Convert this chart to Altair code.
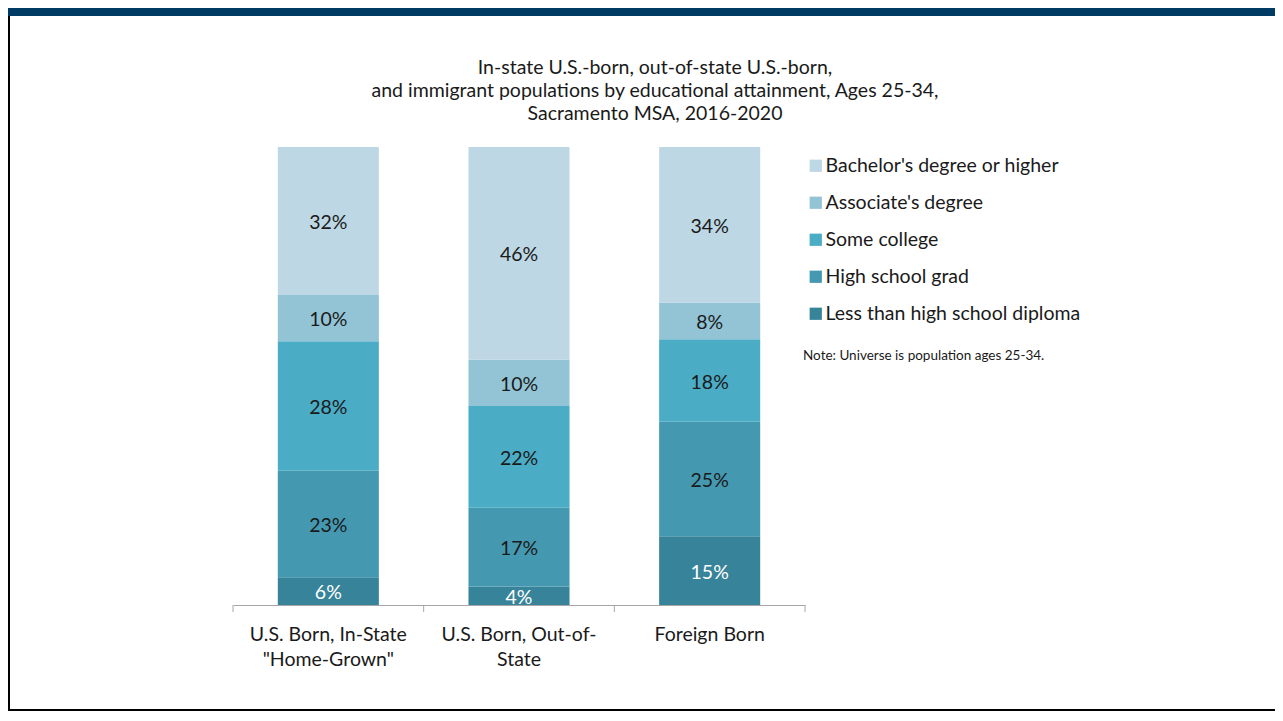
import altair as alt
import pandas as pd

categories = ['U.S. Born, In-State\n"Home-Grown"', 'U.S. Born, Out-of-\nState', 'Foreign Born']
levels = ["Bachelor's degree or higher", "Associate's degree", "Some college",
          "High school grad", "Less than high school diploma"]
colors = ["#BDD7E4", "#93C4D5", "#4BACC6", "#4499B1", "#37849A"]
in_state = [32, 10, 28, 23, 6]
out_state = [46, 10, 22, 17, 4]
foreign = [34, 8, 18, 25, 15]
title_lines = ["In-state U.S.-born, out-of-state U.S.-born,",
               "and immigrant populations by educational attainment, Ages 25-34,",
               "Sacramento MSA, 2016-2020"]
note = "Note:  Universe is population ages 25-34."

FONT = "Lato"
FS = 19.5
rows = []
for cat, vals in zip(categories, [in_state, out_state, foreign]):
    for i, (lev, v) in enumerate(zip(levels, vals)):
        rows.append({"cat": cat, "level": lev, "value": v, "ord": len(levels) - 1 - i,
                     "label": f"{v}%"})
df = pd.DataFrame(rows)

W, H = 572, 458
PL, PT, PR, PB = 225, 139, 470, 108
P_IN, P_OUT = 0.47, 0.235
STEP = W / (len(categories) - P_IN + 2 * P_OUT)
HALF = STEP / 2

base = alt.Chart(df).transform_stack(
    stack="value", groupby=["cat"], as_=["y0", "y1"], offset="normalize",
    sort=[alt.SortField("ord", order="ascending")]
).transform_calculate(ymid="(datum.y0 + datum.y1) / 2")

xenc = alt.X("cat:N", sort=categories, title=None,
             scale=alt.Scale(paddingInner=P_IN, paddingOuter=P_OUT),
             axis=alt.Axis(labelExpr="split(datum.label, '\\n')", labelAngle=0,
                           labelFont=FONT, labelFontSize=FS, labelColor="#1a1a1a",
                           labelLineHeight=25, labelPadding=20, ticks=False,
                           domainColor="#A6A6A6", grid=False))

bars = base.mark_bar().encode(
    x=xenc,
    y=alt.Y("y0:Q", scale=alt.Scale(domain=[0, 1]), axis=None),
    y2="y1:Q",
    color=alt.Color("level:N", scale=alt.Scale(domain=levels, range=colors),
                    legend=alt.Legend(title=None, orient="none", legendX=573, legendY=9,
                                      labelFont=FONT, labelFontSize=FS, labelColor="#1a1a1a",
                                      symbolType="square", symbolSize=150, symbolStrokeWidth=0,
                                      rowPadding=16, labelOffset=0, labelLimit=400)),
    order=alt.Order("ord:Q"),
)

texts = base.mark_text(font=FONT, fontSize=FS, baseline="middle", dy=2).encode(
    x=alt.X("cat:N", sort=categories),
    y=alt.Y("ymid:Q", scale=alt.Scale(domain=[0, 1])),
    text="label:N",
    color=alt.condition(alt.datum.level == levels[-1], alt.value("white"), alt.value("#1a1a1a")),
)

cat_df = alt.Chart(pd.DataFrame({"cat": categories}))
ticks_left = cat_df.mark_rule(color="#A6A6A6", xOffset=-HALF).encode(
    x=alt.X("cat:N", sort=categories), y=alt.value(H), y2=alt.value(H + 7))
ticks_last = cat_df.transform_filter(alt.datum.cat == categories[-1]).mark_rule(
    color="#A6A6A6", xOffset=HALF).encode(
    x=alt.X("cat:N", sort=categories), y=alt.value(H), y2=alt.value(H + 7))

dummy = alt.Chart(pd.DataFrame({"note": [note], "title": ["\n".join(title_lines)]}))
note_mark = dummy.mark_text(font=FONT, fontSize=13.5, align="left", baseline="middle",
                            color="#1a1a1a").encode(
    x=alt.value(570), y=alt.value(209), text="note:N")
title_mark = dummy.mark_text(font=FONT, fontSize=FS, align="center", baseline="middle",
                             lineBreak="\n", lineHeight=23, color="#1a1a1a").encode(
    x=alt.value(422), y=alt.value(-79), text="title:N")

right = W + PR
top_band = dummy.mark_rect(color="#003B64").encode(
    x=alt.value(-PL), x2=alt.value(right), y=alt.value(-PT), y2=alt.value(-PT + 8))
left_border = dummy.mark_rect(color="#000000").encode(
    x=alt.value(-PL), x2=alt.value(-PL + 2), y=alt.value(-PT + 8), y2=alt.value(H + PB - 2))
bottom_border = dummy.mark_rect(color="#000000").encode(
    x=alt.value(-PL), x2=alt.value(right), y=alt.value(H + PB - 4), y2=alt.value(H + PB - 2))

chart = alt.layer(top_band, left_border, bottom_border, bars, texts, ticks_left, ticks_last,
                  note_mark, title_mark).properties(
    width=W, height=H,
    padding={"left": PL, "top": PT, "right": PR, "bottom": PB},
    autosize="none",
    background="white",
).configure_view(strokeWidth=0, stroke="transparent")

chart.save("out.html", embed_options={"renderer": "svg", "actions": False})
